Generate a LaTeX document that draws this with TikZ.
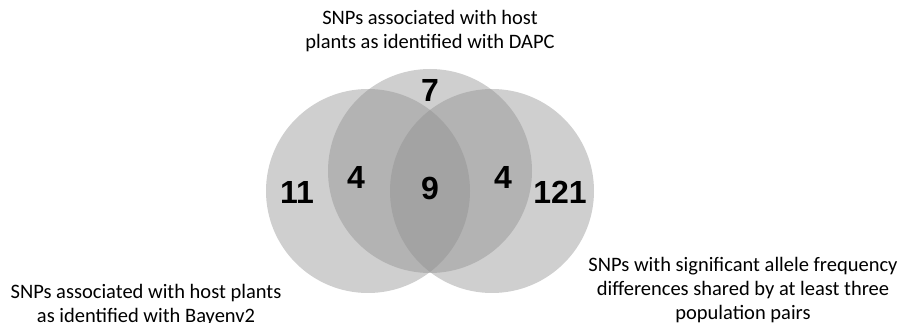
\documentclass[tikz,border=0pt]{standalone}
\usepackage{fontspec}
\setmainfont{Carlito}
\newfontfamily\numfont{Liberation Sans}
\begin{document}
\begin{tikzpicture}[x=1pt,y=-1pt,
  setcircle/.style={fill=black!45,fill opacity=0.42,draw=none},
  num/.style={font=\numfont\bfseries\fontsize{32}{36}\selectfont,inner sep=0pt,anchor=center},
  lbl/.style={font=\fontsize{20.5}{24}\selectfont,align=center,inner sep=0pt,anchor=center}]
\useasboundingbox (0,0) rectangle (900,323);
\fill[setcircle] (368,191) circle (102);
\fill[setcircle] (430,171) circle (102);
\fill[setcircle] (492,191) circle (102);
\node[num] (n11) at (297,192) {11};
\node[num] (n4l) at (356,177) {4};
\node[num] (n9) at (430,188) {9};
\node[num] (n4r) at (503,177) {4};
\node[num] (n121) at (560,192) {121};
\node[num] (n7) at (430,90) {7};
\node[lbl] (ttop) at (430,31) {SNPs associated with host\\plants as identified with DAPC};
\node[lbl] (tleft) at (146,305) {SNPs associated with host plants\\as identified with Bayenv2};
\node[lbl] (tright) at (743,290) {SNPs with significant allele frequency\\differences shared by at least three\\population pairs};
\end{tikzpicture}
\end{document}
